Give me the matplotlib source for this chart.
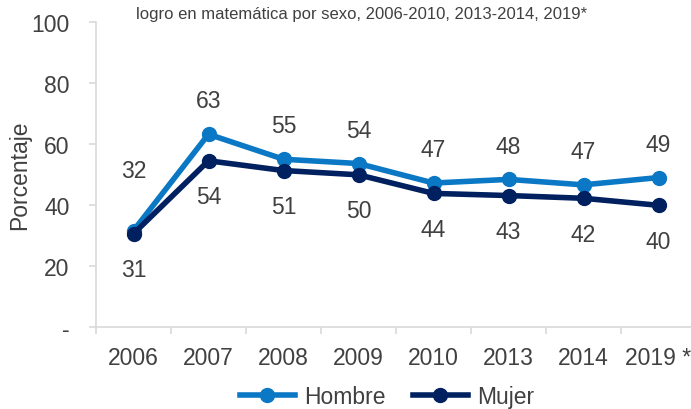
import matplotlib.pyplot as plt

years = ['2006', '2007', '2008', '2009', '2010', '2013', '2014', '2019 *']
hombre = [31.6, 63.2, 55.0, 53.6, 47.2, 48.4, 46.6, 49.0]
mujer = [30.6, 54.5, 51.3, 49.9, 43.8, 43.1, 42.2, 39.9]
hombre_lbl = ['32', '63', '55', '54', '47', '48', '47', '49']
mujer_lbl = ['31', '54', '51', '50', '44', '43', '42', '40']
yticks = [0, 20, 40, 60, 80, 100]
ytick_lbl = ['-', '20', '40', '60', '80', '100']

plt.rcParams['font.family'] = ['Liberation Sans', 'DejaVu Sans']
gris = '#404040'
azul = '#0A78C4'
navy = '#002060'

fig = plt.figure(figsize=(6.91, 4.10), dpi=100)
ax = fig.add_axes([96/691, 82/410, 600/691, 305/410])

x = list(range(len(years)))
ax.plot(x, hombre, color=azul, lw=4, marker='o', ms=10, label='Hombre')
ax.plot(x, mujer, color=navy, lw=4, marker='o', ms=10, label='Mujer')

# etiquetas de datos
for i in x:
    off_h = 43 if i == 0 else 24
    ax.annotate(hombre_lbl[i], (i, hombre[i]), xytext=(0, off_h), textcoords='offset points',
                ha='center', va='center', fontsize=16.5, color=gris)
    ax.annotate(mujer_lbl[i], (i, mujer[i]), xytext=(0, -26), textcoords='offset points',
                ha='center', va='center', fontsize=16.5, color=gris)

ax.set_xlim(-0.5, 7.5)
ax.set_ylim(0, 100)
ax.set_yticks(yticks)
ax.set_yticklabels(ytick_lbl)
ax.set_xticks(x)
ax.set_xticklabels(years)
ax.set_xticks([k + 0.5 for k in range(-1, 8)], minor=True)
ax.tick_params(axis='x', which='major', length=0, pad=14, labelsize=16.5, labelcolor=gris)
ax.tick_params(axis='x', which='minor', length=5, color='#D9D9D9', width=1.2)
ax.tick_params(axis='y', length=5, color='#D9D9D9', width=1.2, pad=14, labelsize=16.5, labelcolor=gris)

for s in ['top', 'right']:
    ax.spines[s].set_visible(False)
for s in ['left', 'bottom']:
    ax.spines[s].set_color('#D9D9D9')
    ax.spines[s].set_linewidth(1.2)

ax.set_ylabel('Porcentaje', fontsize=16.5, color=gris, va='center')
ax.yaxis.set_label_coords(-0.127, 0.5)

fig.text(0.523, 0.965, 'logro en matemática por sexo, 2006-2010, 2013-2014, 2019*',
         ha='center', va='center', fontsize=12, color=gris)

leg = fig.legend(loc='center', bbox_to_anchor=(0.56, 0.03), ncol=2, frameon=False,
                 fontsize=16.5, handlelength=2.4, columnspacing=1.2, handletextpad=0.4)
for t in leg.get_texts():
    t.set_color(gris)

plt.savefig('out.png', dpi=100)
